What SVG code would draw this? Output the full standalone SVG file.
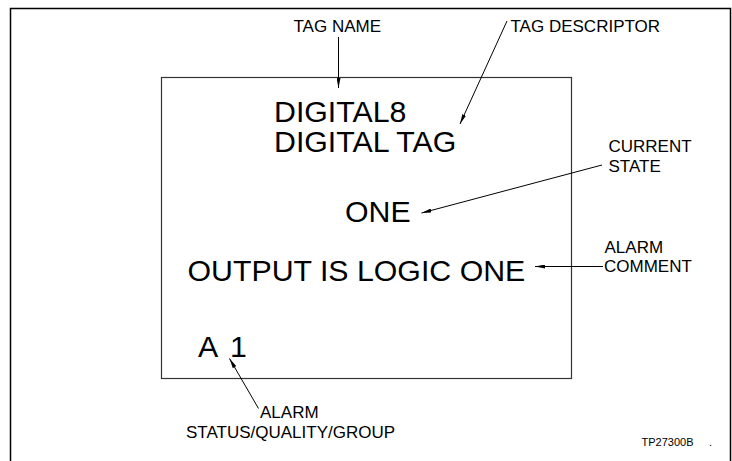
<svg xmlns="http://www.w3.org/2000/svg" width="732" height="461" viewBox="0 0 732 461">
<defs>
<style>
.frame{fill:none;stroke:#000;stroke-width:1.5}
.box{fill:none;stroke:#333;stroke-width:1.2}
.big{font-family:"Liberation Sans",Arial,sans-serif;font-size:30.3px;fill:#000}
.lbl{font-family:"Liberation Sans",Arial,sans-serif;font-size:17px;fill:#000}
.code{font-family:"Liberation Sans",Arial,sans-serif;font-size:11px;fill:#000}
.conn{fill:none;stroke:#000;stroke-width:1;marker-end:url(#ah)}
</style>
<marker id="ah" viewBox="0 0 10 4" refX="10" refY="2" markerWidth="10" markerHeight="4" markerUnits="userSpaceOnUse" orient="auto">
<path d="M0,0 L10,2 L0,4 Z" fill="#000"/>
</marker>
</defs>
<rect width="732" height="461" fill="#fff"/>
<path class="frame" d="M10.5,470 V8.5 H730.5 V470"/>
<g id="display">
<rect class="box" x="161.5" y="77.5" width="410" height="301"/>
<text class="big" x="274" y="122">DIGITAL8</text>
<text class="big" x="274" y="152">DIGITAL TAG</text>
<text class="big" x="345" y="221.5">ONE</text>
<text class="big" x="187.5" y="281">OUTPUT IS LOGIC ONE</text>
<text class="big" x="198" y="357">A</text>
<text class="big" x="230" y="357">1</text>
</g>
<g id="tag-name"><text class="lbl" x="293.5" y="32">TAG NAME</text></g>
<g id="tag-descriptor"><text class="lbl" x="510.5" y="32">TAG DESCRIPTOR</text></g>
<g id="current-state"><text class="lbl" x="608.5" y="151.5">CURRENT</text><text class="lbl" x="608.5" y="171.5">STATE</text></g>
<g id="alarm-comment"><text class="lbl" x="604.5" y="253">ALARM</text><text class="lbl" x="604" y="272">COMMENT</text></g>
<g id="alarm-status"><text class="lbl" x="260" y="418">ALARM</text><text class="lbl" x="186" y="438">STATUS/QUALITY/GROUP</text></g>
<g id="figure-code"><text class="code" x="641.5" y="445.5">TP27300B</text><text class="code" x="709" y="445.5">.</text></g>
<g id="connectors">
<line class="conn" x1="338.5" y1="37" x2="338.5" y2="88"/>
<line class="conn" x1="507" y1="21" x2="460" y2="124"/>
<line class="conn" x1="602" y1="165" x2="421.5" y2="213"/>
<line class="conn" x1="603" y1="266.5" x2="535" y2="266.5"/>
<line class="conn" x1="258.5" y1="408.5" x2="229.5" y2="358.5"/>
</g>
</svg>
